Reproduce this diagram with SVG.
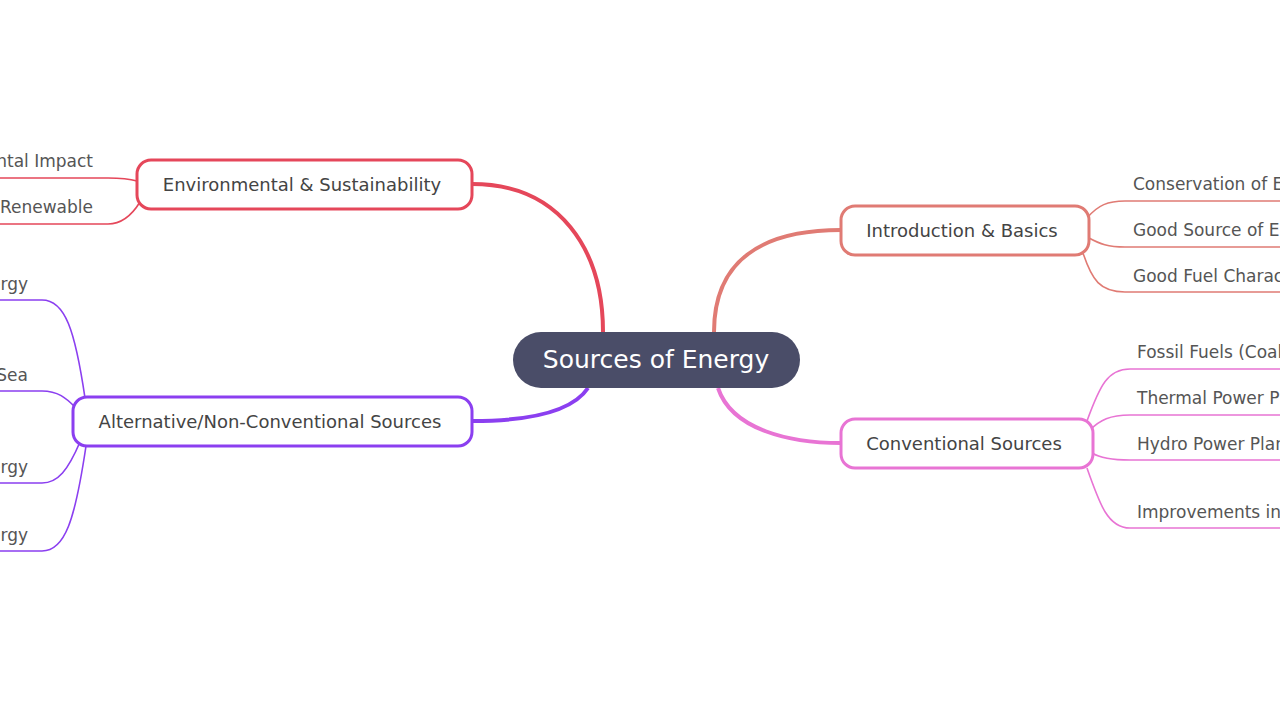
<svg xmlns="http://www.w3.org/2000/svg" width="1280" height="720" viewBox="0 0 1280 720">
<style>
text{font-family:"DejaVu Sans",sans-serif;fill:#444}
.n{font-size:18px;text-anchor:middle}
.l{font-size:17px;fill:#555}
.e{text-anchor:end}
path{fill:none}
.box{fill:#fff;stroke-width:3}
</style>
<rect width="1280" height="720" fill="#fff"/>
<g id="connectors">
<path d="M714,332 C714,262 760,230 841,230" stroke="#e07b74" stroke-width="4"/>
<path d="M718,388 C732,430 790,443 841,443" stroke="#e874d4" stroke-width="4"/>
<path d="M603,332 C603,250 560,184 472,184" stroke="#e5475a" stroke-width="4"/>
<path d="M588,388 C570,415 520,421 472,421" stroke="#8b3ff0" stroke-width="4"/>
<g stroke="#e07b74" stroke-width="1.6">
<path d="M1087,218 C1098,205 1108,201 1125,201 L1280,201"/>
<path d="M1089,238 C1100,244 1108,247 1125,247 L1280,247"/>
<path d="M1083,253 C1092,280 1100,292 1125,292 L1280,292"/>
</g>
<g stroke="#e874d4" stroke-width="1.6">
<path d="M1087,421 C1100,385 1108,369 1130,369 L1280,369"/>
<path d="M1090,430 C1100,420 1110,415 1130,415 L1280,415"/>
<path d="M1092,453 C1100,458 1110,460 1130,460 L1280,460"/>
<path d="M1087,468 C1100,505 1108,528 1130,528 L1280,528"/>
</g>
<g stroke="#e5475a" stroke-width="1.6">
<path d="M0,178 L108,178 C122,178 130,179 137,181"/>
<path d="M0,224 L108,224 C122,224 132,215 140,202"/>
</g>
<g stroke="#8b3ff0" stroke-width="1.6">
<path d="M0,300 L42,300 C65,300 75,330 85,398"/>
<path d="M0,391 L42,391 C58,391 66,398 75,407"/>
<path d="M0,483 L42,483 C58,483 68,470 80,442"/>
<path d="M0,551 L42,551 C65,551 75,520 86,446"/>
</g>
</g>
<g id="center">
<rect x="513" y="332" width="287" height="56" rx="28" fill="#4a4d68"/>
<text x="656" y="368" style="font-size:25px;fill:#fff;text-anchor:middle">Sources of Energy</text>
</g>
<g id="intro">
<rect class="box" x="841" y="206" width="248" height="49" rx="14" stroke="#e07b74"/>
<text class="n" x="962" y="237">Introduction &amp; Basics</text>
</g>
<g id="conv">
<rect class="box" x="841" y="419" width="252" height="49" rx="14" stroke="#e874d4"/>
<text class="n" x="964" y="450">Conventional Sources</text>
</g>
<g id="env">
<rect class="box" x="137" y="160" width="335" height="49" rx="14" stroke="#e5475a"/>
<text class="n" x="302" y="191">Environmental &amp; Sustainability</text>
</g>
<g id="alt">
<rect class="box" x="73" y="397" width="399" height="49" rx="14" stroke="#8b3ff0"/>
<text class="n" x="270" y="428">Alternative/Non-Conventional Sources</text>
</g>
<g id="leaves">
<text class="l" x="1133" y="190">Conservation of Energy</text>
<text class="l" x="1133" y="236">Good Source of Energy</text>
<text class="l" x="1133" y="282">Good Fuel Characteristics</text>
<text class="l" x="1137" y="358">Fossil Fuels (Coal, Petroleum)</text>
<text class="l" x="1137" y="404">Thermal Power Plant</text>
<text class="l" x="1137" y="450">Hydro Power Plants</text>
<text class="l" x="1137" y="518">Improvements in Technology</text>
<text class="l e" x="93" y="167">Environmental Impact</text>
<text class="l e" x="93" y="213">Non-Renewable vs Renewable</text>
<text class="l e" x="28" y="290">Solar Energy</text>
<text class="l e" x="28" y="381">Energy from the Sea</text>
<text class="l e" x="28" y="473">Geothermal Energy</text>
<text class="l e" x="28" y="541">Nuclear Energy</text>
</g>
</svg>
